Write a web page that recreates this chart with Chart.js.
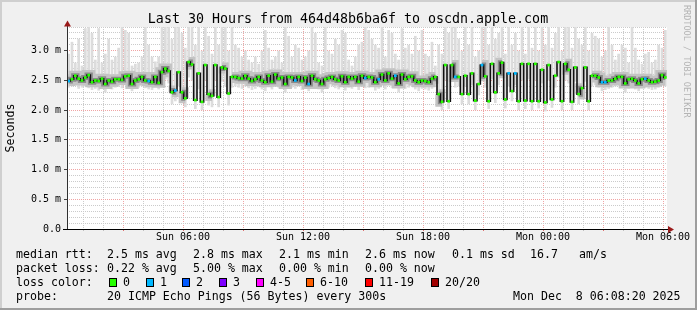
<!DOCTYPE html>
<html lang="en">
<head>
<meta charset="UTF-8">
<title>Last 30 Hours from 464d48b6ba6f to oscdn.apple.com</title>
<script src="https://cdn.jsdelivr.net/npm/chart.js"></script>
<style>
  body { margin: 0; background: #f0f0f0; }
  canvas { display: block; }
</style>
</head>
<body>
<canvas id="chart" width="697" height="310"></canvas>
<script>
// 10 minute bins, hours counted from Sun 00:00
var startHour = 0.2;
var stepHours = 1 / 6;

// median rtt in ms, one value per bin
var median = [
  2.49, 2.52, 2.58, 2.53, 2.50, 2.55, 2.59, 2.47, 2.50, 2.49,
  2.53, 2.44, 2.50, 2.48, 2.52, 2.52, 2.51, 2.57, 2.58, 2.44,
  2.50, 2.52, 2.56, 2.50, 2.49, 2.47, 2.56, 2.46, 2.64, 2.70,
  2.66, 2.30, 2.33, 2.64, 2.30, 2.20, 2.81, 2.77, 2.17, 2.62,
  2.14, 2.76, 2.27, 2.24, 2.76, 2.22, 2.72, 2.70, 2.28, 2.56,
  2.56, 2.54, 2.53, 2.58, 2.53, 2.49, 2.52, 2.56, 2.50, 2.47,
  2.58, 2.48, 2.60, 2.53, 2.55, 2.44, 2.56, 2.55, 2.50, 2.56,
  2.49, 2.55, 2.44, 2.58, 2.52, 2.50, 2.44, 2.52, 2.54, 2.56,
  2.52, 2.50, 2.57, 2.47, 2.56, 2.53, 2.56, 2.48, 2.58, 2.54,
  2.56, 2.55, 2.47, 2.52, 2.60, 2.50, 2.62, 2.53, 2.58, 2.45,
  2.60, 2.52, 2.56, 2.57, 2.50, 2.47, 2.50, 2.49, 2.47, 2.53,
  2.56, 2.27, 2.14, 2.76, 2.15, 2.76, 2.56, 2.56, 2.27, 2.58,
  2.27, 2.62, 2.16, 2.44, 2.76, 2.57, 2.15, 2.78, 2.30, 2.62,
  2.80, 2.18, 2.62, 2.32, 2.62, 2.15, 2.78, 2.16, 2.78, 2.15,
  2.78, 2.15, 2.68, 2.13, 2.76, 2.18, 2.58, 2.81, 2.15, 2.78,
  2.68, 2.14, 2.72, 2.27, 2.37, 2.72, 2.15, 2.58, 2.58, 2.55,
  2.47, 2.47, 2.50, 2.50, 2.53, 2.56, 2.56, 2.45, 2.52, 2.53,
  2.50, 2.45, 2.52, 2.53, 2.50, 2.47, 2.48, 2.50, 2.59, 2.55
];

// slowest ping of each bin (top of the smoke)
var smokeMax = [
  2.95, 3.15, 2.80, 3.20, 2.75, 3.38, 3.40, 3.30, 2.85, 3.38,
  2.80, 2.95, 3.20, 2.85, 2.90, 3.05, 3.40, 3.35, 3.30, 2.75,
  2.78, 2.80, 2.90, 3.40, 3.10, 2.90, 2.82, 2.90, 3.40, 3.40,
  3.40, 3.20, 3.40, 3.40, 3.30, 3.05, 3.40, 3.40, 3.10, 3.40,
  3.00, 3.40, 3.25, 2.95, 3.40, 3.10, 3.40, 3.40, 3.00, 3.40,
  3.10, 3.05, 2.90, 3.00, 2.85, 2.80, 2.90, 2.78, 3.00, 3.35,
  3.05, 2.85, 2.90, 3.00, 2.80, 3.40, 3.25, 2.90, 3.10, 3.05,
  2.85, 2.90, 3.00, 3.40, 3.30, 2.80, 2.75, 3.40, 3.00, 2.95,
  3.20, 3.10, 3.35, 3.30, 2.85, 2.75, 2.90, 3.10, 3.15, 3.40,
  3.35, 3.20, 3.10, 3.05, 3.40, 2.90, 3.35, 3.30, 2.95, 2.85,
  3.38, 3.05, 3.10, 2.95, 3.25, 3.00, 3.35, 2.95, 2.90, 3.15,
  2.75, 3.10, 2.95, 3.40, 3.30, 3.40, 3.40, 3.20, 3.00, 3.40,
  3.10, 3.40, 2.90, 3.00, 3.40, 3.40, 3.10, 3.40, 3.20, 3.30,
  3.40, 2.95, 3.40, 3.10, 3.30, 3.00, 3.40, 2.95, 3.40, 3.05,
  3.40, 3.00, 3.40, 3.10, 3.40, 3.05, 3.30, 3.40, 3.00, 3.40,
  3.40, 3.05, 3.40, 3.20, 3.10, 3.40, 3.00, 3.30, 3.25, 3.20,
  2.90, 3.00, 3.40, 3.10, 2.85, 2.95, 3.10, 3.05, 2.80, 3.40,
  3.05, 2.85, 2.78, 2.95, 2.98, 2.80, 2.85, 3.10, 3.05, 3.35
];

// fastest ping of each bin (bottom of the smoke)
var smokeMin = [
  2.38, 2.40, 2.42, 2.36, 2.38, 2.40, 2.37, 2.34, 2.36, 2.33,
  2.38, 2.30, 2.36, 2.35, 2.38, 2.40, 2.37, 2.42, 2.40, 2.32,
  2.36, 2.38, 2.40, 2.37, 2.35, 2.34, 2.40, 2.35, 2.48, 2.52,
  2.45, 2.10, 2.15, 2.40, 2.12, 2.05, 2.55, 2.50, 2.02, 2.35,
  2.00, 2.50, 2.08, 2.05, 2.50, 2.05, 2.48, 2.40, 2.08, 2.38,
  2.40, 2.38, 2.36, 2.40, 2.37, 2.34, 2.36, 2.40, 2.35, 2.32,
  2.40, 2.35, 2.42, 2.38, 2.38, 2.30, 2.36, 2.38, 2.36, 2.40,
  2.34, 2.38, 2.32, 2.40, 2.37, 2.35, 2.30, 2.36, 2.38, 2.40,
  2.37, 2.35, 2.40, 2.33, 2.38, 2.36, 2.40, 2.34, 2.40, 2.37,
  2.38, 2.40, 2.33, 2.36, 2.42, 2.35, 2.44, 2.37, 2.40, 2.30,
  2.42, 2.36, 2.38, 2.40, 2.35, 2.32, 2.36, 2.35, 2.33, 2.36,
  2.40, 2.10, 2.00, 2.50, 2.02, 2.50, 2.38, 2.40, 2.10, 2.40,
  2.10, 2.42, 2.00, 2.25, 2.50, 2.38, 2.02, 2.52, 2.12, 2.42,
  2.55, 2.03, 2.40, 2.15, 2.42, 2.00, 2.50, 2.02, 2.52, 2.00,
  2.50, 2.03, 2.45, 1.98, 2.50, 2.04, 2.38, 2.55, 2.00, 2.50,
  2.45, 2.00, 2.48, 2.10, 2.18, 2.48, 2.00, 2.40, 2.42, 2.38,
  2.32, 2.34, 2.36, 2.38, 2.40, 2.42, 2.38, 2.30, 2.36, 2.38,
  2.35, 2.32, 2.37, 2.38, 2.36, 2.34, 2.35, 2.38, 2.42, 2.40
];

// bins where 1 of 20 pings was lost
var lossOneIdx = [0, 24, 32, 68, 72, 89, 93, 98, 116, 124, 132, 134, 160, 161, 173];

var xTickHours = [6, 12, 18, 24, 30];
var xTickLabels = ['Sun 06:00', 'Sun 12:00', 'Sun 18:00', 'Mon 00:00', 'Mon 06:00'];

var lossLabels = ['0', '1', '2', '3', '4-5', '6-10', '11-19', '20/20'];
var lossColors = ['#26ff00', '#00b8ff', '#0059ff', '#7e00ff', '#ff00ff', '#ff5e00', '#ff0000', '#a10000'];
var lossBoxX = [109, 146, 182, 219, 256, 306, 365, 431];

var MONO = "'DejaVu Sans Mono', monospace";
var majorGrid = '#f0a4a4';
var minorGrid = '#cbcbcb';

function binHour(i) {
  return startHour + (i + 0.5) * stepHours;
}

// the dense smoke around the median only shows where the median is calm
function calm(color) {
  return function (ctx) {
    return Math.abs(ctx.p1.parsed.y - ctx.p0.parsed.y) > 0.2 ? 'rgba(0,0,0,0)' : color;
  };
}

var medianPts = median.map(function (v, i) { return { x: binHour(i), y: v }; });
var smokePts = smokeMax.map(function (v, i) { return { x: binHour(i), y: [smokeMin[i], v] }; });

var rrdLook = {
  id: 'rrdLook',
  beforeDraw: function (chart) {
    var c = chart.ctx, a = chart.chartArea;
    c.save();
    c.fillStyle = '#f0f0f0';
    c.fillRect(0, 0, 697, 310);
    c.fillStyle = '#cfcfcf';
    c.fillRect(0, 0, 697, 2);
    c.fillRect(0, 0, 2, 310);
    c.fillStyle = '#9e9e9e';
    c.fillRect(0, 308, 697, 2);
    c.fillRect(695, 0, 2, 310);
    c.fillStyle = '#ffffff';
    c.fillRect(a.left, a.top, a.right - a.left, a.bottom - a.top);
    c.restore();
  },
  afterDraw: function (chart) {
    var c = chart.ctx, a = chart.chartArea;
    c.save();
    // axes with arrows
    c.strokeStyle = '#303030';
    c.lineWidth = 1;
    c.beginPath();
    c.moveTo(a.left + 0.5, a.bottom);
    c.lineTo(a.left + 0.5, 24);
    c.stroke();
    c.strokeStyle = '#000';
    c.beginPath();
    c.moveTo(63, a.bottom + 0.5);
    c.lineTo(669, a.bottom + 0.5);
    c.stroke();
    c.fillStyle = '#9a1a1a';
    c.beginPath();
    c.moveTo(64, 26.5); c.lineTo(71, 26.5); c.lineTo(67.5, 20.5); c.closePath();
    c.fill();
    c.beginPath();
    c.moveTo(668, 226); c.lineTo(668, 233); c.lineTo(674, 229.5); c.closePath();
    c.fill();

    // title
    c.fillStyle = '#000';
    c.font = '13.3px ' + MONO;
    c.textAlign = 'center';
    c.textBaseline = 'alphabetic';
    c.fillText('Last 30 Hours from 464d48b6ba6f to oscdn.apple.com', 348, 23);

    // legend rows
    c.font = '11.6px ' + MONO;
    c.textAlign = 'left';
    var rows = [
      [258, [[16, 'median rtt:'], [107, '2.5 ms avg'], [193, '2.8 ms max'], [279, '2.1 ms min'],
             [365, '2.6 ms now'], [452, '0.1 ms sd'], [530, '16.7'], [579, 'am/s']]],
      [272, [[16, 'packet loss:'], [107, '0.22 % avg'], [193, '5.00 % max'], [279, '0.00 % min'],
             [365, '0.00 % now']]],
      [286, [[16, 'loss color:']]],
      [300, [[16, 'probe:'], [107, '20 ICMP Echo Pings (56 Bytes) every 300s'], [513, 'Mon Dec  8 06:08:20 2025']]]
    ];
    rows.forEach(function (r) {
      r[1].forEach(function (t) { c.fillText(t[1], t[0], r[0]); });
    });
    lossLabels.forEach(function (lab, k) {
      var bx = lossBoxX[k];
      c.fillStyle = lossColors[k];
      c.fillRect(bx, 278, 7, 8);
      c.strokeStyle = '#000';
      c.strokeRect(bx + 0.5, 278.5, 7, 8);
      c.fillStyle = '#000';
      c.fillText(lab, bx + 14, 286);
    });

    // vertical watermark
    c.translate(686, 5);
    c.rotate(Math.PI / 2);
    c.font = '8.5px ' + MONO;
    c.fillStyle = '#b4b4b4';
    c.textBaseline = 'middle';
    c.fillText('RRDTOOL / TOBI OETIKER', 0, 0);
    c.restore();
  }
};

var chart = new Chart(document.getElementById('chart').getContext('2d'), {
  type: 'bar',
  data: {
    datasets: [
      {
        type: 'bar',
        data: smokePts,
        backgroundColor: '#dcdcdc',
        borderWidth: 0,
        grouped: false,
        barPercentage: 0.8,
        categoryPercentage: 1,
        order: 4
      },
      {
        type: 'line',
        data: medianPts,
        borderWidth: 10,
        stepped: 'middle',
        pointRadius: 0,
        segment: { borderColor: calm('#c4c4c4') },
        order: 3
      },
      {
        type: 'line',
        data: medianPts,
        borderWidth: 5,
        stepped: 'middle',
        pointRadius: 0,
        segment: { borderColor: calm('#8a8a8a') },
        order: 2
      },
      {
        type: 'line',
        data: medianPts,
        borderColor: '#111111',
        borderWidth: 1.6,
        stepped: 'middle',
        pointStyle: 'rect',
        pointRadius: 1.9,
        pointBorderWidth: 0,
        pointBackgroundColor: function (ctx) {
          return lossOneIdx.indexOf(ctx.dataIndex) >= 0 ? lossColors[1] : lossColors[0];
        },
        order: 1
      }
    ]
  },
  options: {
    responsive: false,
    animation: false,
    events: [],
    layout: { padding: { left: 0, right: 30, top: 27, bottom: 0 } },
    plugins: { legend: { display: false }, tooltip: { enabled: false } },
    scales: {
      x: {
        type: 'linear',
        offset: false,
        min: 0.2,
        max: 30.2,
        afterFit: function (s) { s.height = 81; },
        afterBuildTicks: function (s) {
          var t = [];
          for (var h = 1; h <= 30; h++) t.push({ value: h });
          s.ticks = t;
        },
        border: { display: false, dash: [1, 1] },
        grid: {
          offset: false,
          color: function (c) { return c.tick && c.tick.value % 3 === 0 ? majorGrid : minorGrid; },
          tickColor: function (c) { return c.tick && c.tick.value % 3 === 0 ? '#e07070' : '#c0c0c0'; },
          tickLength: 2
        },
        ticks: {
          autoSkip: false,
          maxRotation: 0,
          padding: 0,
          color: '#000',
          font: { family: MONO, size: 10 },
          callback: function (v) {
            var k = xTickHours.indexOf(v);
            return k >= 0 ? xTickLabels[k] : '';
          }
        }
      },
      y: {
        min: 0,
        max: 3.4,
        afterFit: function (s) { s.width = 67; },
        afterBuildTicks: function (s) {
          var t = [];
          for (var k = 0; k <= 34; k++) t.push({ value: k / 10 });
          s.ticks = t;
        },
        border: { display: false, dash: [1, 1] },
        grid: {
          color: function (c) { return c.tick && Math.round(c.tick.value * 10) % 5 === 0 ? majorGrid : minorGrid; },
          tickColor: function (c) { return c.tick && Math.round(c.tick.value * 10) % 5 === 0 ? '#404040' : 'rgba(0,0,0,0)'; },
          tickLength: 3
        },
        ticks: {
          autoSkip: false,
          padding: 3,
          color: '#000',
          font: { family: MONO, size: 10 },
          callback: function (v) {
            var k = Math.round(v * 10);
            if (k % 5 !== 0) return '';
            return k === 0 ? '0.0' : (k / 10).toFixed(1) + ' m';
          }
        },
        title: {
          display: true,
          text: 'Seconds',
          color: '#000',
          font: { family: MONO, size: 11.6 },
          padding: { top: 4, bottom: 0 }
        }
      }
    }
  },
  plugins: [rrdLook]
});
</script>
</body>
</html>
